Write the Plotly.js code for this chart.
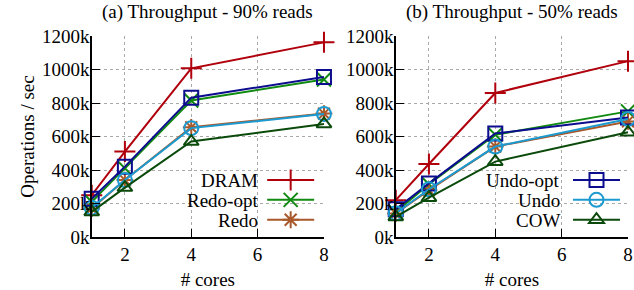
<!DOCTYPE html>
<html>
<head>
<meta charset="utf-8">
<script src="https://cdn.plot.ly/plotly-3.0.1.min.js"></script>
<style>html,body{margin:0;padding:0;background:#fff;}#chart{width:634px;height:290px;}</style>
</head>
<body>
<div id="chart"></div>
<script>
// ---- data ----
const cores = [1, 2, 4, 8];
const seriesNames = ["DRAM", "Redo-opt", "Redo", "Undo-opt", "Undo", "COW"];
// (a) Throughput - 90% reads, in thousands of ops/sec
const reads90_DRAM    = [250, 510, 1007, 1162];
const reads90_RedoOpt = [210, 410, 815, 940];
const reads90_Redo    = [170, 340, 655, 737];
const reads90_UndoOpt = [228, 420, 832, 955];
const reads90_Undo    = [175, 340, 650, 735];
const reads90_COW     = [150, 295, 570, 675];
// (b) Throughput - 50% reads
const reads50_DRAM    = [220, 436, 860, 1050];
const reads50_RedoOpt = [150, 315, 610, 750];
const reads50_Redo    = [140, 280, 540, 690];
const reads50_UndoOpt = [165, 320, 618, 714];
const reads50_Undo    = [142, 285, 540, 705];
const reads50_COW     = [120, 235, 450, 625];
const xTickVals = [2, 4, 6, 8];
const yTickVals = [0, 200, 400, 600, 800, 1000, 1200];
const yTickText = ["0k", "200k", "400k", "600k", "800k", "1000k", "1200k"];

const colors = {
  "DRAM": "#b0000c", "Redo-opt": "#118a11", "Redo": "#a8582a",
  "Undo-opt": "#0c0c8e", "Undo": "#1c9ad0", "COW": "#0a4a0a"
};
const symbols = {
  "DRAM": "cross-thin-open", "Redo-opt": "x-thin-open", "Redo": "asterisk-open",
  "Undo-opt": "square-open", "Undo": "circle-open", "COW": "triangle-up-open"
};
const sizes = {"DRAM": 15, "Redo-opt": 14, "Redo": 14, "Undo-opt": 14, "Undo": 14, "COW": 13};

const set90 = {"DRAM": reads90_DRAM, "Redo-opt": reads90_RedoOpt, "Redo": reads90_Redo,
  "Undo-opt": reads90_UndoOpt, "Undo": reads90_Undo, "COW": reads90_COW};
const set50 = {"DRAM": reads50_DRAM, "Redo-opt": reads50_RedoOpt, "Redo": reads50_Redo,
  "Undo-opt": reads50_UndoOpt, "Undo": reads50_Undo, "COW": reads50_COW};

const leftLegend = ["DRAM", "Redo-opt", "Redo"];
const traces = [];
function mk(name, ys, xa, ya, show, leg) {
  return {
    x: cores, y: ys, xaxis: xa, yaxis: ya, name: " ", type: "scatter", mode: "lines+markers",
    line: {color: colors[name], width: 2},
    marker: {symbol: symbols[name], size: sizes[name], color: colors[name], line: {color: colors[name], width: 2}},
    cliponaxis: false, showlegend: show, legend: leg, hoverinfo: "skip"
  };
}
seriesNames.forEach(n => {
  const inLeft = leftLegend.indexOf(n) >= 0;
  traces.push(mk(n, set90[n], "x", "y", inLeft, "legend"));
});
seriesNames.forEach(n => {
  const inLeft = leftLegend.indexOf(n) >= 0;
  traces.push(mk(n, set50[n], "x2", "y2", !inLeft, "legend2"));
});

const W = 634, H = 290, T = 36, B = 53;
const FAM = "Liberation Serif, serif";
function F(size) { return {family: FAM, size: size || 19, color: "#000"}; }
function py(px) { return 1 - (px - T) / (H - T - B); }

function xAxis(domain, anchor) {
  return {
    domain: domain, anchor: anchor,
    range: [1, 8], tickvals: xTickVals, ticks: "inside", ticklen: 8, tickcolor: "#000", tickwidth: 1,
    showline: true, linecolor: "#000", linewidth: 1.5, mirror: false, showgrid: true,
    gridcolor: "#aaaaaa", griddash: "dot", gridwidth: 1, zeroline: false,
    tickfont: F(19), title: {text: "# cores", font: F(19), standoff: 8}, fixedrange: true
  };
}
function yAxis(anchor, title) {
  const a = {
    anchor: anchor,
    range: [0, 1200], tickvals: yTickVals, ticktext: yTickText, ticks: "inside", ticklen: 8,
    tickcolor: "#000", tickwidth: 1, showline: true, linecolor: "#000", linewidth: 1.5, mirror: false,
    showgrid: true, gridcolor: "#aaaaaa", griddash: "dot", gridwidth: 1, zeroline: false,
    tickfont: F(19), ticklabelstandoff: -3, fixedrange: true
  };
  if (title) a.title = {text: title, font: F(19), standoff: 2};
  return a;
}

const annotations = [
  {text: "(a) Throughput - 90% reads", x: (92 + 325) / 2 / W, y: 1, xref: "paper", yref: "paper",
   xanchor: "center", yanchor: "bottom", yshift: 11, showarrow: false, font: F(19)},
  {text: "(b) Throughput - 50% reads", x: (397 + 630) / 2 / W, y: 1, xref: "paper", yref: "paper",
   xanchor: "center", yanchor: "bottom", yshift: 11, showarrow: false, font: F(19)}
];
const legRows = [180, 200, 220];
leftLegend.forEach((n, i) => annotations.push({text: n, x: 261 / W, y: py(legRows[i]), xref: "paper", yref: "paper",
  xanchor: "right", yanchor: "middle", showarrow: false, font: F(19)}));
["Undo-opt", "Undo", "COW"].forEach((n, i) => annotations.push({text: n, x: 564 / W, y: py(legRows[i]), xref: "paper", yref: "paper",
  xanchor: "right", yanchor: "middle", showarrow: false, font: F(19)}));

function leg(x) {
  return {bgcolor: "rgba(0,0,0,0)", borderwidth: 0, font: F(13),
    itemwidth: 47, yanchor: "middle", xanchor: "left", traceorder: "normal", tracegroupgap: 0,
    x: x, y: py(200)};
}

const layout = {
  width: W, height: H, margin: {l: 0, r: 0, t: T, b: B},
  paper_bgcolor: "#fff", plot_bgcolor: "#fff", font: F(19),
  xaxis: xAxis([92 / W, 325 / W], "y"),
  yaxis: yAxis("x", "Operations / sec"),
  xaxis2: xAxis([397 / W, 630 / W], "y2"),
  yaxis2: yAxis("x2", null),
  legend: leg(263 / W),
  legend2: leg(570 / W),
  annotations: annotations
};

Plotly.newPlot("chart", traces, layout, {staticPlot: true, displayModeBar: false});
</script>
</body>
</html>
